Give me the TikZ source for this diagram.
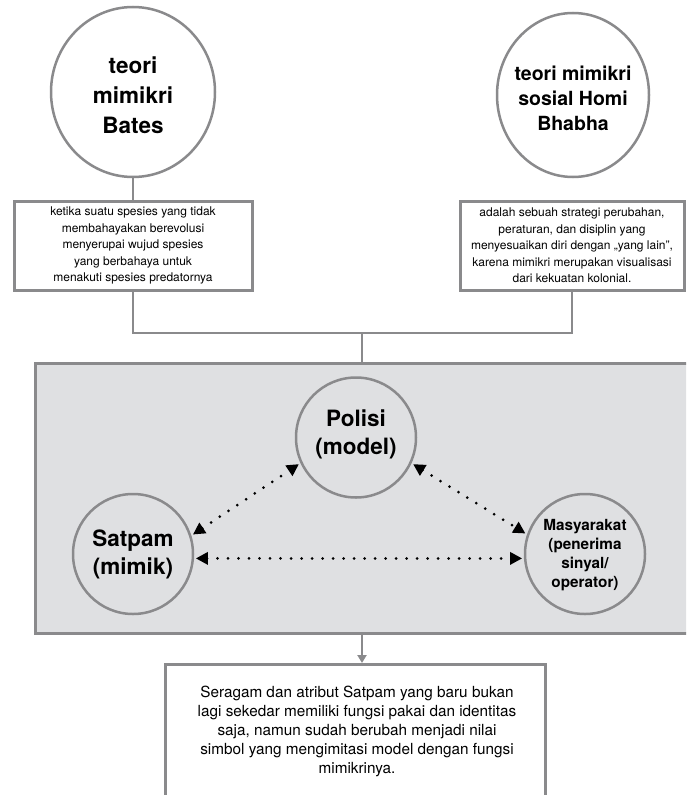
\documentclass[tikz,border=0pt]{standalone}
\usepackage{fontspec}
\setmainfont{TeX Gyre Heros}
\usetikzlibrary{arrows.meta,shapes.geometric,calc}
\definecolor{linegray}{HTML}{8A8A8C}
\definecolor{panelfill}{HTML}{DFE0E2}
\tikzset{
  topellipse/.style={ellipse, draw=linegray, line width=2.5pt, fill=white, inner sep=0pt},
  innercircle/.style={circle, draw=linegray, line width=2.5pt, minimum size=120pt, inner sep=0pt, outer sep=3pt},
  textbox/.style={rectangle, draw=linegray, line width=3pt, fill=white, inner sep=0pt, align=center,
    font=\fontsize{12}{16.5}\selectfont},
  panelbox/.style={rectangle, draw=linegray, line width=3pt, fill=panelfill, inner sep=0pt},
  connector/.style={draw=linegray, line width=2.5pt},
  dotarrow/.style={draw=black, line width=3pt, line cap=round, dash pattern=on 0pt off 10.5pt,
    {Triangle[length=12pt,width=12pt]}-{Triangle[length=12pt,width=12pt]}},
  bigbold/.style={font=\fontsize{22.5}{30}\selectfont\bfseries, align=center},
  midbold/.style={font=\fontsize{19.5}{25}\selectfont\bfseries, align=center},
  innerbold/.style={font=\fontsize{22.5}{28}\selectfont\bfseries, align=center},
  smallbold/.style={font=\fontsize{15.3}{19}\selectfont\bfseries, align=center},
}
\begin{document}
\begin{tikzpicture}[x=1pt,y=1pt]
\useasboundingbox (0,0) rectangle (686,-795);
\clip (0,0) rectangle (686,-795);
\fill[white] (0,0) rectangle (686,-795);

% top theory ellipses
\node[topellipse, minimum width=164pt, minimum height=170pt] (bates) at (133,-92) {};
\node[bigbold] (batestext) at (133,-95) {teori\\mimikri\\Bates};
\node[topellipse, minimum width=152pt, minimum height=164pt] (bhabha) at (573,-95) {};
\node[midbold] (bhabhatext) at (573,-98) {teori mimikri\\sosial Homi\\Bhabha};

% description boxes
\node[textbox, minimum width=238pt, minimum height=89pt] (leftbox) at (133,-245.5)
  {ketika suatu spesies yang tidak\\membahayakan berevolusi\\menyerupai wujud spesies\\yang berbahaya untuk\\menakuti spesies predatornya};
\node[textbox, minimum width=224pt, minimum height=89pt] (rightbox) at (572,-245.5)
  {adalah sebuah strategi perubahan,\\peraturan, dan disiplin yang\\menyesuaikan diri dengan „yang lain”,\\karena mimikri merupakan visualisasi\\dari kekuatan kolonial.};

\draw[connector] (bates.south) -- (leftbox.north);

% panel
\node[panelbox, minimum width=665pt, minimum height=270pt] (panel) at (367.5,-498) {};

\coordinate (join) at (362,-333);
\draw[connector] (leftbox.south) |- (join);
\draw[connector] (rightbox.south) |- (join);
\draw[connector] (join) -- (join |- panel.north);

% inner circles
\node[innercircle] (polisi) at (356,-437.5) {};
\node[innerbold] (polisitext) at (356,-434) {Polisi\\(model)};
\node[innercircle] (satpam) at (133,-554) {};
\node[innerbold] (satpamtext) at (133,-554) {Satpam\\(mimik)};
\node[innercircle] (masy) at (585,-554) {};
\node[smallbold] (masytext) at (585,-555) {Masyarakat\\(penerima\\sinyal/\\operator)};

\draw[dotarrow] (satpam.18) -- (polisi.205);
\draw[dotarrow] (polisi.-25) -- (masy.161);
\draw[dotarrow] (satpam.-4) -- (masy.184);

% bottom box
\node[rectangle, draw=linegray, line width=3pt, fill=white, minimum width=380pt, minimum height=170pt, inner sep=0pt, anchor=north] (bottombox) at (355,-663) {};
\node[font=\fontsize{15.3}{19}\selectfont, align=center] (bottomtext) at (357,-731)
  {Seragam dan atribut Satpam yang baru bukan\\lagi sekedar memiliki fungsi pakai dan identitas\\saja, namun sudah berubah menjadi nilai\\simbol yang mengimitasi model dengan fungsi\\mimikrinya.};

\draw[connector, -{Triangle[length=8pt,width=9pt]}] (panel.south -| join) -- (join |- bottombox.north);
\end{tikzpicture}
\end{document}
